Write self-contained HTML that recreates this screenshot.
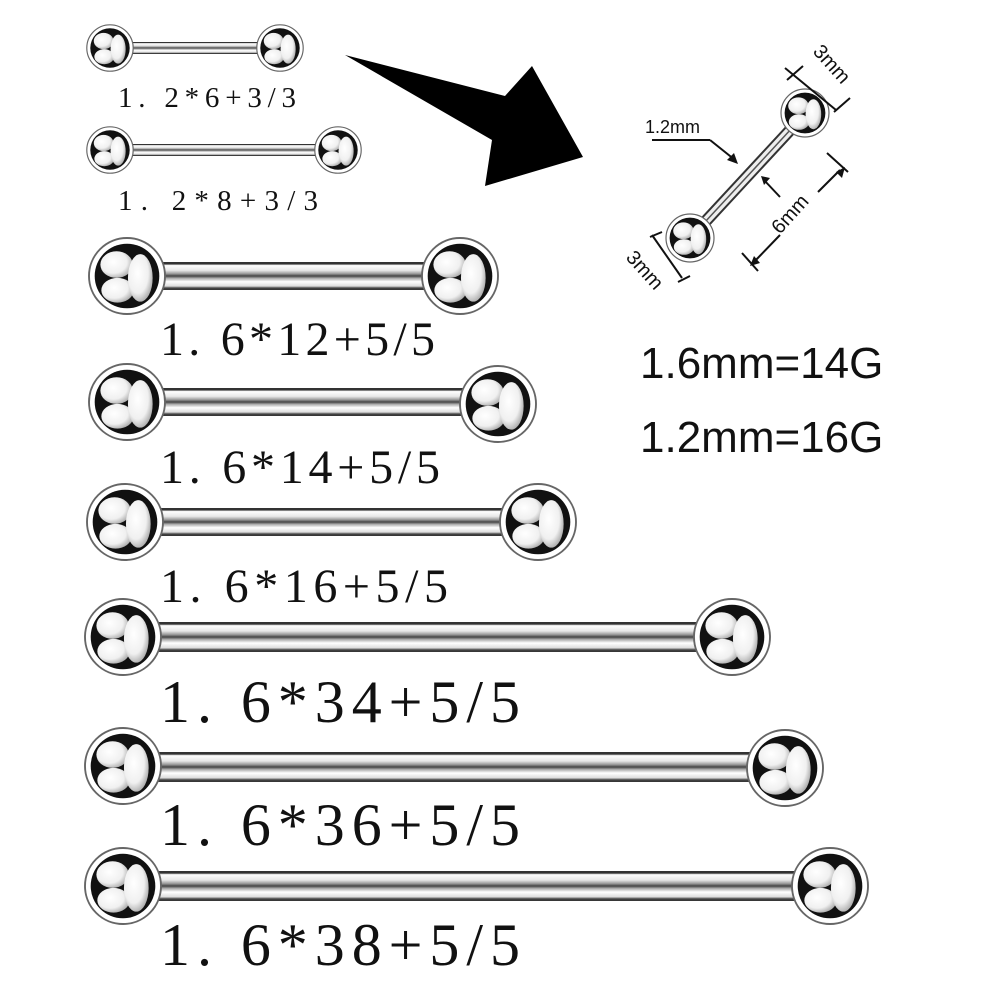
<!DOCTYPE html>
<html><head><meta charset="utf-8"><style>
html,body{margin:0;padding:0;background:#fff}
svg{display:block}
.s{font-family:"Liberation Serif",serif;fill:#111}
.a{font-family:"Liberation Sans",sans-serif;fill:#111}
</style></head><body>
<svg width="1000" height="1000" viewBox="0 0 1000 1000" xmlns="http://www.w3.org/2000/svg">
<defs>
<linearGradient id="bar" x1="0" y1="0" x2="0" y2="1">
<stop offset="0" stop-color="#333"/><stop offset="0.07" stop-color="#333"/>
<stop offset="0.12" stop-color="#fff"/><stop offset="0.3" stop-color="#e8e8e8"/>
<stop offset="0.42" stop-color="#999"/><stop offset="0.5" stop-color="#444"/>
<stop offset="0.58" stop-color="#aaa"/><stop offset="0.7" stop-color="#fff"/>
<stop offset="0.86" stop-color="#ddd"/><stop offset="0.93" stop-color="#444"/>
<stop offset="1" stop-color="#333"/>
</linearGradient>
<radialGradient id="hl" cx="0.4" cy="0.4" r="0.7">
<stop offset="0" stop-color="#fff"/><stop offset="0.6" stop-color="#f0f0f0"/><stop offset="1" stop-color="#999"/>
</radialGradient>
<g id="b">
<circle r="40" fill="#fff" stroke="#666" stroke-width="2"/>
<circle r="34" fill="#111"/>
<ellipse cx="-11" cy="-12" rx="17" ry="14" fill="url(#hl)"/>
<ellipse cx="-10" cy="15" rx="17" ry="13" fill="url(#hl)"/>
<ellipse cx="14" cy="2" rx="13" ry="25" fill="url(#hl)"/>
</g>
</defs>

<rect x="125" y="42" width="145" height="12" fill="url(#bar)"/>
<use href="#b" transform="translate(110,48) scale(0.58)"/>
<use href="#b" transform="translate(280,48) scale(0.58)"/>
<text class="s" x="118" y="107" font-size="29" textLength="178" lengthAdjust="spacing">1. 2*6+3/3</text>

<rect x="125" y="144" width="205" height="12" fill="url(#bar)"/>
<use href="#b" transform="translate(110,150) scale(0.58)"/>
<use href="#b" transform="translate(338,150) scale(0.58)"/>
<text class="s" x="118" y="210" font-size="29" textLength="200" lengthAdjust="spacing">1. 2*8+3/3</text>

<rect x="155" y="262" width="290" height="28" fill="url(#bar)"/>
<use href="#b" transform="translate(127,276) scale(0.95)"/>
<use href="#b" transform="translate(460,276) scale(0.95)"/>
<text class="s" x="160" y="355" font-size="48" textLength="275" lengthAdjust="spacing">1. 6*12+5/5</text>

<rect x="155" y="388" width="325" height="28" fill="url(#bar)"/>
<use href="#b" transform="translate(127,402) scale(0.95)"/>
<use href="#b" transform="translate(498,404) scale(0.95)"/>
<text class="s" x="160" y="483" font-size="48" textLength="280" lengthAdjust="spacing">1. 6*14+5/5</text>

<rect x="155" y="508" width="365" height="28" fill="url(#bar)"/>
<use href="#b" transform="translate(125,522) scale(0.95)"/>
<use href="#b" transform="translate(538,522) scale(0.95)"/>
<text class="s" x="160" y="602" font-size="48" textLength="288" lengthAdjust="spacing">1. 6*16+5/5</text>

<rect x="155" y="622" width="560" height="30" fill="url(#bar)"/>
<use href="#b" transform="translate(123,637) scale(0.95)"/>
<use href="#b" transform="translate(732,637) scale(0.95)"/>
<text class="s" x="160" y="722" font-size="60" textLength="360" lengthAdjust="spacing">1. 6*34+5/5</text>

<rect x="155" y="752" width="615" height="30" fill="url(#bar)"/>
<use href="#b" transform="translate(123,766) scale(0.95)"/>
<use href="#b" transform="translate(785,768) scale(0.95)"/>
<text class="s" x="160" y="845" font-size="60" textLength="360" lengthAdjust="spacing">1. 6*36+5/5</text>

<rect x="155" y="871" width="660" height="30" fill="url(#bar)"/>
<use href="#b" transform="translate(123,886) scale(0.95)"/>
<use href="#b" transform="translate(830,886) scale(0.95)"/>
<text class="s" x="160" y="965" font-size="60" textLength="360" lengthAdjust="spacing">1. 6*38+5/5</text>

<polygon points="345,55 505,96 532,66 583,157 485,186 492,140" fill="#000"/>

<line x1="692" y1="236" x2="805" y2="114" stroke="#333" stroke-width="12"/>
<line x1="692" y1="236" x2="805" y2="114" stroke="#eee" stroke-width="8"/>
<line x1="692" y1="236" x2="805" y2="114" stroke="#555" stroke-width="1.5"/>
<use href="#b" transform="translate(690,238) scale(0.6)"/>
<use href="#b" transform="translate(805,113) scale(0.6)"/>
<g stroke="#111" stroke-width="2" fill="none">
<line x1="785" y1="68" x2="836" y2="110"/>
<line x1="803" y1="66" x2="787" y2="80"/>
<line x1="850" y1="98" x2="834" y2="112"/>
<line x1="652" y1="235" x2="682" y2="278"/>
<line x1="650" y1="237" x2="662" y2="232"/>
<line x1="678" y1="282" x2="690" y2="276"/>
<line x1="652" y1="140" x2="710" y2="140"/>
<line x1="710" y1="140" x2="735" y2="160"/>
<line x1="827" y1="153" x2="848" y2="172"/>
<line x1="742" y1="253" x2="758" y2="271"/>
<line x1="753" y1="263" x2="780" y2="235"/>
<line x1="818" y1="192" x2="840" y2="170"/>
<line x1="780" y1="197" x2="764" y2="180"/>
</g>
<g fill="#111">
<polygon points="738,164 727,160 734,153"/>
<polygon points="761,176 770,178 764,185"/>
<polygon points="845,167 836,172 842,178"/>
<polygon points="750,266 760,263 754,256"/>
</g>
<text class="a" x="645" y="133" font-size="18">1.2mm</text>
<text class="a" font-size="20" transform="translate(812,52) rotate(48)">3mm</text>
<text class="a" font-size="20" transform="translate(625,258) rotate(48)">3mm</text>
<text class="a" font-size="20" transform="translate(780,235) rotate(-48)">6mm</text>
<text class="a" x="640" y="378" font-size="44">1.6mm=14G</text>
<text class="a" x="640" y="452" font-size="44">1.2mm=16G</text>
</svg>
</body></html>
